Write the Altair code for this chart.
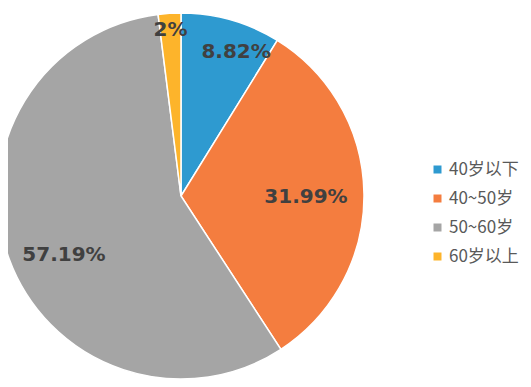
import altair as alt
import pandas as pd

categories = ["40岁以下", "40~50岁", "50~60岁", "60岁以上"]
values = [8.82, 31.99, 57.19, 2]
labels = ["8.82%", "31.99%", "57.19%", "2%"]
colors = ["#2E9AD0", "#F47D3F", "#A5A5A5", "#FDB42B"]

df = pd.DataFrame({"cat": categories, "val": values, "label": labels, "idx": list(range(len(categories)))})

CX, CY, R = 173, 188, 183

base = alt.Chart(df).encode(
    theta=alt.Theta("val:Q", stack=True),
    order=alt.Order("idx:Q"),
    x=alt.value(CX),
    y=alt.value(CY),
)

arcs = base.mark_arc(outerRadius=R, stroke="white", strokeWidth=1.5).encode(
    color=alt.Color(
        "cat:N",
        scale=alt.Scale(domain=categories, range=colors),
        sort=categories,
        legend=alt.Legend(
            title=None,
            orient="none",
            legendX=421,
            legendY=153,
            symbolType="square",
            symbolSize=64,
            symbolStrokeWidth=0,
            labelFontSize=17,
            labelFont="Noto Sans CJK SC",
            labelColor="#595959",
            rowPadding=11,
            labelOffset=3,
            padding=0,
        ),
    )
)

# label placement (style): radius and nudges per slice
label_style = {
    "40岁以下": (154, 13, 4),
    "40~50岁": (125, 0, 2),
    "50~60岁": (131, 6, 14),
    "60岁以上": (166, 0, 0),
}

text_layers = []
for cat, (rad, ddx, ddy) in label_style.items():
    text_layers.append(
        base.mark_text(
            radius=rad, dx=ddx, dy=ddy, font="DejaVu Sans", fontSize=20,
            fontWeight="bold", color="#404040"
        ).encode(text=alt.condition(alt.datum.cat == cat, "label:N", alt.value("")))
    )

chart = alt.layer(arcs, *text_layers).properties(
    width=515, height=371, padding=0, autosize=alt.AutoSizeParams(type="none")
).configure_view(stroke=None)

chart.save("out.html", embed_options={"renderer": "svg", "actions": False})
